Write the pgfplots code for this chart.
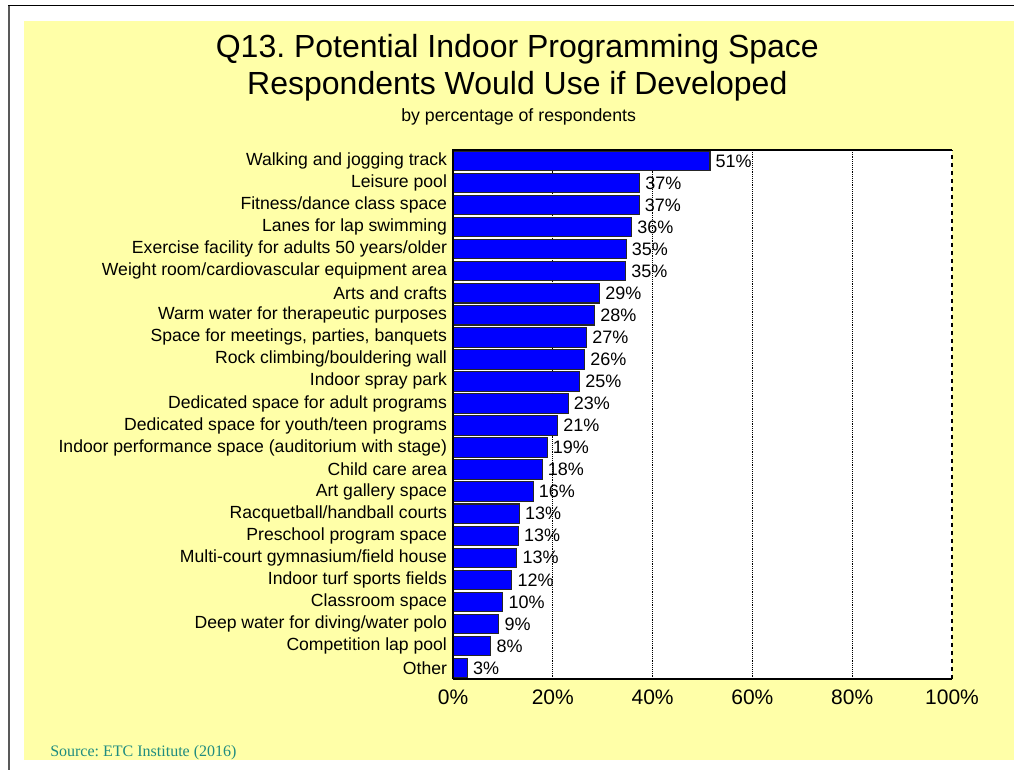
\documentclass[border=0pt]{standalone}
\usepackage{pgfplots}
\usepackage{pgfplotstable}
\pgfplotsset{compat=1.18}
\usepackage{fontspec}
\setmainfont{Liberation Sans}
\newfontfamily\srcfont{Liberation Serif}

\definecolor{bgyellow}{RGB}{255,255,168}
\definecolor{barblue}{RGB}{0,0,255}
\definecolor{srcteal}{RGB}{31,140,128}

% bar length as drawn; lab = printed percentage
\pgfplotstableread[col sep=semicolon, row sep=\\]{
idx;val;lab;name\\
0;51.5;51;Walking and jogging track\\
1;37.4;37;Leisure pool\\
2;37.3;37;Fitness/dance class space\\
3;35.8;36;Lanes for lap swimming\\
4;34.7;35;Exercise facility for adults 50 years/older\\
5;34.6;35;Weight room/cardiovascular equipment area\\
6;29.4;29;Arts and crafts\\
7;28.4;28;Warm water for therapeutic purposes\\
8;26.8;27;Space for meetings, parties, banquets\\
9;26.4;26;Rock climbing/bouldering wall\\
10;25.4;25;Indoor spray park\\
11;23.1;23;Dedicated space for adult programs\\
12;21.0;21;Dedicated space for youth/teen programs\\
13;18.9;19;Indoor performance space (auditorium with stage)\\
14;17.9;18;Child care area\\
15;16.1;16;Art gallery space\\
16;13.3;13;Racquetball/handball courts\\
17;13.1;13;Preschool program space\\
18;12.8;13;Multi-court gymnasium/field house\\
19;11.8;12;Indoor turf sports fields\\
20;10.0;10;Classroom space\\
21;9.2;9;Deep water for diving/water polo\\
22;7.6;8;Competition lap pool\\
23;2.9;3;Other\\
}\data

\begin{document}
\frenchspacing
\begin{tikzpicture}
% page: 1014 x 770 px at 0.75pt per px, origin top left
\useasboundingbox (0,0) rectangle (760.5pt,-577.5pt);
\fill[bgyellow] (18pt,-15.75pt) rectangle (760.5pt,-570pt);
\draw[black, line width=0.75pt] (6pt,-4.5pt) -- (760.5pt,-4.5pt);
\draw[black!65, line width=1.8pt] (6.75pt,-4.5pt) -- (6.75pt,-577.5pt);

\node[anchor=base, font=\fontsize{24}{28}\selectfont] at (388pt,-43.5pt) {Q13. Potential Indoor Programming Space};
\node[anchor=base, font=\fontsize{24}{28}\selectfont] at (388pt,-71.25pt) {Respondents Would Use if Developed};
\node[anchor=base, font=\fontsize{13.3}{15}\selectfont] at (389pt,-91.5pt) {by percentage of respondents};
\node[anchor=base west, inner sep=0pt, text=srcteal, font=\srcfont\fontsize{12}{14}\selectfont] at (37.5pt,-567pt) {Source: ETC Institute (2016)};

\begin{axis}[
  name=ax,
  at={(339.75pt,-509.25pt)}, anchor=south west,
  scale only axis, width=374.25pt, height=396.75pt,
  xbar, bar width=0.88,
  xmin=0, xmax=100, ymin=-0.5, ymax=23.5, y dir=reverse,
  xtick={20,40,60,80}, extra x ticks={0,100},
  extra x tick style={grid=none},
  /pgf/number format/assume math mode=true,
  xticklabel={\pgfmathprintnumber{\tick}\%},
  xticklabel style={font=\fontsize{15.75}{18}\selectfont, yshift=-4.5pt},
  ytick=data, yticklabels from table={\data}{name},
  yticklabel style={font=\fontsize{13.2}{15}\selectfont, xshift=-1pt},
  major tick length=0pt,
  axis background/.style={fill=white},
  axis line style={draw=none},
  xmajorgrids, grid style={black, densely dotted, line width=0.6pt},
  point meta=explicit symbolic,
  nodes near coords={\pgfplotspointmeta\%},
  nodes near coords style={anchor=west, font=\fontsize{13.5}{15}\selectfont, xshift=0.5pt},
]
\addplot[xbar, fill=barblue, draw=black!85, line width=0.8pt]
  table[x=val, y=idx, meta=lab] {\data};
\end{axis}
\draw[black, line width=0.8pt] (ax.south west) -- (ax.north west) -- (ax.north east);
\draw[black, line width=1.5pt] (ax.south west) -- (ax.south east);
\draw[black, line width=0.9pt, dashed] (ax.south east) -- (ax.north east);
\end{tikzpicture}
\end{document}
